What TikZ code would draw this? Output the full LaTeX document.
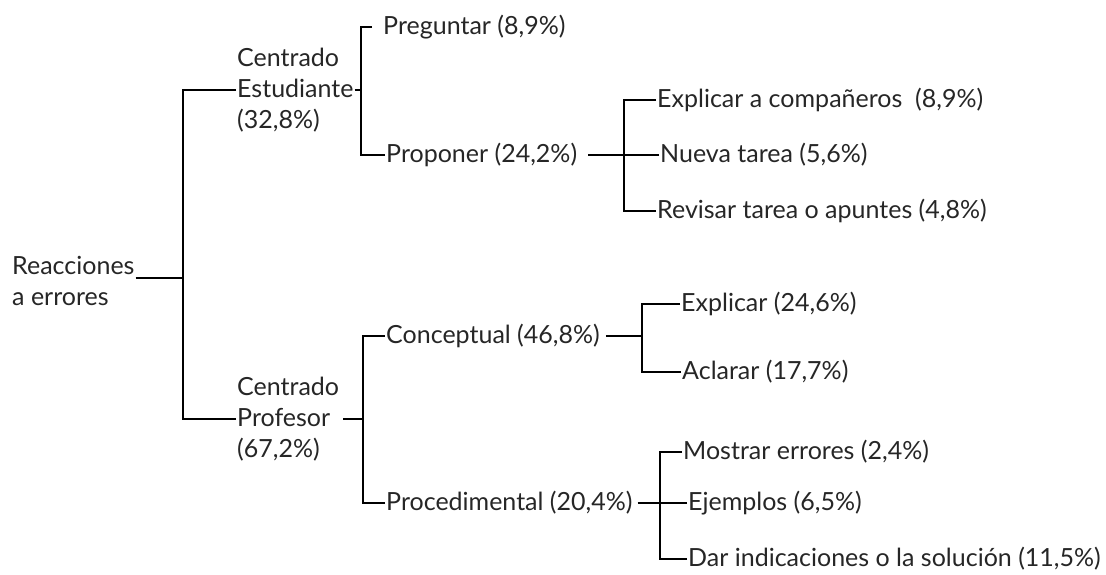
\documentclass[tikz,border=0pt]{standalone}
\usepackage{fontspec}
\setmainfont{Lato}
\begin{document}
\begin{tikzpicture}[x=1pt,y=-1pt,
  lbl/.style={anchor=west,inner xsep=1pt,inner ysep=0pt,font=\fontsize{25}{31}\selectfont,align=left,text=black!85},
  con/.style={draw=black,line width=2.8pt}]
\useasboundingbox (0,0) rectangle (1106,574);
% nodes
\node[lbl] (root) at (11,281) {Reacciones\\a errores};
\node[lbl] (ce) at (236,90) {Centrado\\Estudiante\\(32,8\%)};
\node[lbl] (cp) at (236,419) {Centrado\\Profesor\\(67,2\%)};
\node[lbl] (preg) at (382,27) {Preguntar (8,9\%)};
\node[lbl] (prop) at (385,155) {Proponer (24,2\%)};
\node[lbl] (ex1) at (656,100) {Explicar a compañeros\ \ (8,9\%)};
\node[lbl] (nt) at (659,155) {Nueva tarea (5,6\%)};
\node[lbl] (rv) at (656,211) {Revisar tarea o apuntes (4,8\%)};
\node[lbl] (conc) at (385,336) {Conceptual (46,8\%)};
\node[lbl] (proc) at (385,503) {Procedimental (20,4\%)};
\node[lbl] (ex2) at (680,304) {Explicar (24,6\%)};
\node[lbl] (acl) at (681,372) {Aclarar (17,7\%)};
\node[lbl] (mos) at (682,452) {Mostrar errores (2,4\%)};
\node[lbl] (ej) at (687,503) {Ejemplos (6,5\%)};
\node[lbl] (dar) at (687,559) {Dar indicaciones o la solución (11,5\%)};
% junctions
\coordinate (j1) at (183,278);
\coordinate (j2) at (361,90);
\coordinate (jc) at (363,419);
\coordinate (j3) at (624,155);
\coordinate (j4) at (642,336);
\coordinate (j5) at (660,503);
% connectors
\draw[con] (root.east |- j1) -- (j1);
\draw[con] (ce.west) -| (j1);
\draw[con] (cp.west) -| (j1);
\draw[con] (ce.east) -- (j2);
\draw[con, shorten <=10pt] (preg.west) -| (j2);
\draw[con] (prop.west) -| (j2);
\draw[con, shorten <=10pt] (prop.east) -- (j3);
\draw[con] (ex1.west) -| (j3);
\draw[con] (nt.west) -- (j3);
\draw[con] (rv.west) -| (j3);
\draw[con, shorten <=3pt] (cp.east) -- (jc);
\draw[con] (conc.west) -| (jc);
\draw[con] (proc.west) -| (jc);
\draw[con, shorten <=5pt] (conc.east) -- (j4);
\draw[con] (ex2.west) -| (j4);
\draw[con] (acl.west) -| (j4);
\draw[con, shorten <=4pt] (proc.east) -- (j5);
\draw[con] (mos.west) -| (j5);
\draw[con] (ej.west) -- (j5);
\draw[con] (dar.west) -| (j5);
\end{tikzpicture}
\end{document}
